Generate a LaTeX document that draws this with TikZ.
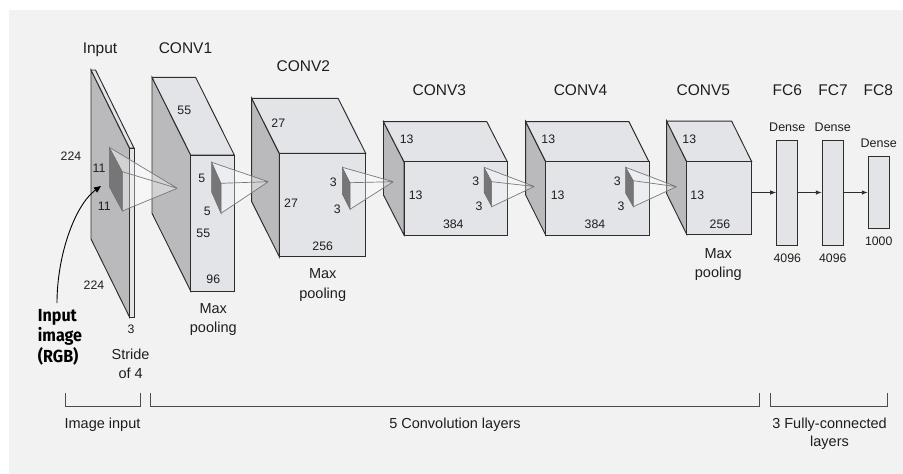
\documentclass[tikz,border=0pt]{standalone}
\usepackage{fontspec}
\setmainfont{Liberation Sans}
\newfontfamily\rgbfont[FakeStretch=0.92]{Fira Sans}
\usetikzlibrary{arrows.meta}
\definecolor{bg}{RGB}{242,242,242}
\definecolor{sidec}{RGB}{186,186,188}
\definecolor{facec}{RGB}{227,228,232}
\definecolor{kdark}{RGB}{118,118,120}
\definecolor{edge}{RGB}{45,45,45}
\definecolor{conec}{RGB}{120,120,124}
\definecolor{txt}{RGB}{30,30,30}
\newcommand\tl[1]{\begin{tabular}[t]{@{}c@{}}#1\end{tabular}}
\newcommand\tll[1]{\begin{tabular}[t]{@{}l@{}}#1\end{tabular}}
\newcommand\cuboid[6]{%
  \filldraw[blk,fill=sidec] (#1,#2) -- ++(#5,#6) -- ([shift={(#5,#6)}]#1,#4) -- (#1,#4) -- cycle;
  \filldraw[blk,fill=facec] (#1,#2) -- ++(#5,#6) -- ([shift={(#5,#6)}]#3,#2) -- (#3,#2) -- cycle;
  \filldraw[blk,fill=facec] (#1,#2) rectangle (#3,#4);}
\newcommand\rfield[7]{%
  \fill[white,opacity=0.35] (#1,#2) -- (#6,#7) -- (#3,#5) -- (#3,#4) -- cycle;
  \filldraw[draw=edge!70,line width=0.5pt,fill=kdark] (#1,#2) -- (#3,#4) -- (#3,#5) -- ([shift={(0,#5-#4)}]#1,#2) -- cycle;
  \draw[cone] (#1,#2) -- (#6,#7) (#3,#4) -- (#6,#7) (#3,#5) -- (#6,#7);}
\begin{document}
\begin{tikzpicture}[x=1pt,y=-1pt,
  blk/.style={draw=edge,line width=0.95pt,line join=miter},
  cone/.style={draw=conec,line width=0.7pt},
  fc/.style={draw=edge,line width=0.95pt,fill=facec,inner sep=0pt},
  arr/.style={draw=edge,line width=0.9pt,-{Latex[length=6pt,width=4.5pt]}},
  brk/.style={draw=edge!85,line width=0.9pt},
  title/.style={font=\fontsize{15.5}{18}\selectfont,text=txt,anchor=base,inner sep=0pt},
  num/.style={font=\fontsize{12.3}{14}\selectfont,text=txt,anchor=base,inner sep=0pt},
  dense/.style={font=\fontsize{12.5}{14}\selectfont,text=txt,anchor=base,inner sep=0pt},
  lbl/.style={font=\fontsize{14.5}{19.3}\selectfont,text=txt,anchor=base,inner sep=0pt},
  bot/.style={font=\fontsize{14.5}{18.5}\selectfont,text=txt,anchor=base,inner sep=0pt},
  rgb/.style={font=\rgbfont\bfseries\fontsize{17.5}{19.8}\selectfont,text=black,anchor=base west,inner sep=0pt}]
\useasboundingbox (0,0) rectangle (903,474);
\fill[white] (0,0) rectangle (903,474);
\fill[bg] (9,10) rectangle (903,474);

% blocks
\cuboid{129.5}{148}{134}{317}{-38.5}{-78}
\cuboid{190.7}{155}{234.3}{291}{-38.7}{-77.7}
\cuboid{279.3}{153.3}{365.7}{256.7}{-27.6}{-55}
\cuboid{404}{161.7}{507.3}{235}{-20.5}{-40}
\cuboid{545.7}{161.7}{649}{235}{-20}{-40}
\cuboid{686.7}{161.7}{751.7}{234.3}{-20}{-40.5}

% receptive fields
\rfield{109.3}{147.3}{122.3}{171.7}{211}{177.3}{188.3}
\rfield{211.7}{162.3}{221}{183.3}{213.3}{268.3}{181.7}
\rfield{342.3}{167.3}{350}{182.7}{209.3}{393.3}{181.7}
\rfield{484}{167.3}{491.7}{181.7}{206.7}{534.3}{186.5}
\rfield{625.7}{167.3}{633.3}{180.7}{206.7}{676.5}{186.7}

% fully connected
\node[fc,minimum width=21pt,minimum height=105pt] (fc6) at (787.2,192.5) {};
\node[fc,minimum width=21pt,minimum height=105pt] (fc7) at (832.8,192.5) {};
\node[fc,minimum width=21pt,minimum height=71.6pt] (fc8) at (878.8,192.5) {};
\coordinate (c5) at (751.7,192.5);
\draw[arr] (c5) -- (fc6);
\draw[arr] (fc6) -- (fc7);
\draw[arr] (fc7) -- (fc8);

% titles
\node[title] (tin) at (100,53.3) {Input};
\node[title] (tc1) at (185.5,53.3) {CONV1};
\node[title] (tc2) at (303.3,71.7) {CONV2};
\node[title] (tc3) at (439.3,95) {CONV3};
\node[title] (tc4) at (580.5,95) {CONV4};
\node[title] (tc5) at (703.3,95) {CONV5};
\node[title] (tf6) at (787.3,95) {FC6};
\node[title] (tf7) at (833,95) {FC7};
\node[title] (tf8) at (878.3,95) {FC8};

% input numbers
\node[num] (n1) at (71,160.3) {224};
\node[num] (n2) at (99,172.6) {11};
\node[num] (n3) at (104.3,210.3) {11};
\node[num] (n4) at (94,289.3) {224};
\node[num] (n5) at (131,333.3) {3};
% conv1
\node[num] (n6) at (184.3,114.3) {55};
\node[num] (n7) at (201.7,182.6) {5};
\node[num] (n8) at (207.3,215) {5};
\node[num] (n9) at (203.3,237.6) {55};
\node[num] (n10) at (213.3,283.6) {96};
% conv2
\node[num] (n11) at (278.3,127.6) {27};
\node[num] (n12) at (291,207) {27};
\node[num] (n13) at (322.7,250.3) {256};
\node[num] (n14) at (333.3,186.6) {3};
\node[num] (n15) at (337.3,213.6) {3};
% conv3
\node[num] (n16) at (406.7,143.3) {13};
\node[num] (n17) at (415.7,199) {13};
\node[num] (n18) at (453.3,228.6) {384};
\node[num] (n19) at (475.7,185) {3};
\node[num] (n20) at (479,210) {3};
% conv4
\node[num] (n21) at (548.3,143.3) {13};
\node[num] (n22) at (557.7,199) {13};
\node[num] (n23) at (595,228.6) {384};
\node[num] (n24) at (617.3,185) {3};
\node[num] (n25) at (621,210) {3};
% conv5
\node[num] (n26) at (689.3,143.3) {13};
\node[num] (n27) at (697.3,199.3) {13};
\node[num] (n28) at (720,228.3) {256};
% fc
\node[dense] (d6) at (787.3,131.8) {Dense};
\node[dense] (d7) at (832.8,131.8) {Dense};
\node[dense] (d8) at (878.7,147.8) {Dense};
\node[num] (s6) at (787.3,262.6) {4096};
\node[num] (s7) at (832.8,262.6) {4096};
\node[num] (s8) at (878.7,245.3) {1000};

% labels
\node[lbl] (mp1) at (213.3,313.5) {\tl{Max\\pooling}};
\node[lbl] (mp2) at (322.7,278.8) {\tl{Max\\pooling}};
\node[lbl] (mp5) at (718.3,258.4) {\tl{Max\\pooling}};
\node[lbl] (str) at (130.6,359.3) {\tl{Stride\\of 4}};
\node[rgb] (rgb) at (37.7,321.7) {\tll{Input\\image\\(RGB)}};

% input arrow
\coordinate (atail) at (57,303);
\coordinate (ahead) at (101,186);
\draw[draw=black,line width=0.9pt,-{Triangle[length=7pt,width=6pt]}] (atail) .. controls (57,255) and (75,205) .. (ahead);

% brackets
\draw[brk] (65,393.3) -- (65,406) -- (140,406) -- (140,393.3);
\draw[brk] (150,393.3) -- (150,406) -- (759,406) -- (759,393.3);
\draw[brk] (770,393.3) -- (770,406) -- (887,406) -- (887,393.3);
\node[bot] (b1) at (102.5,428.3) {Image input};
\node[bot] (b2) at (455,428.3) {5 Convolution layers};
\node[bot] (b3) at (829.5,428.3) {\tl{3 Fully-connected\\layers}};
\end{tikzpicture}
\end{document}
